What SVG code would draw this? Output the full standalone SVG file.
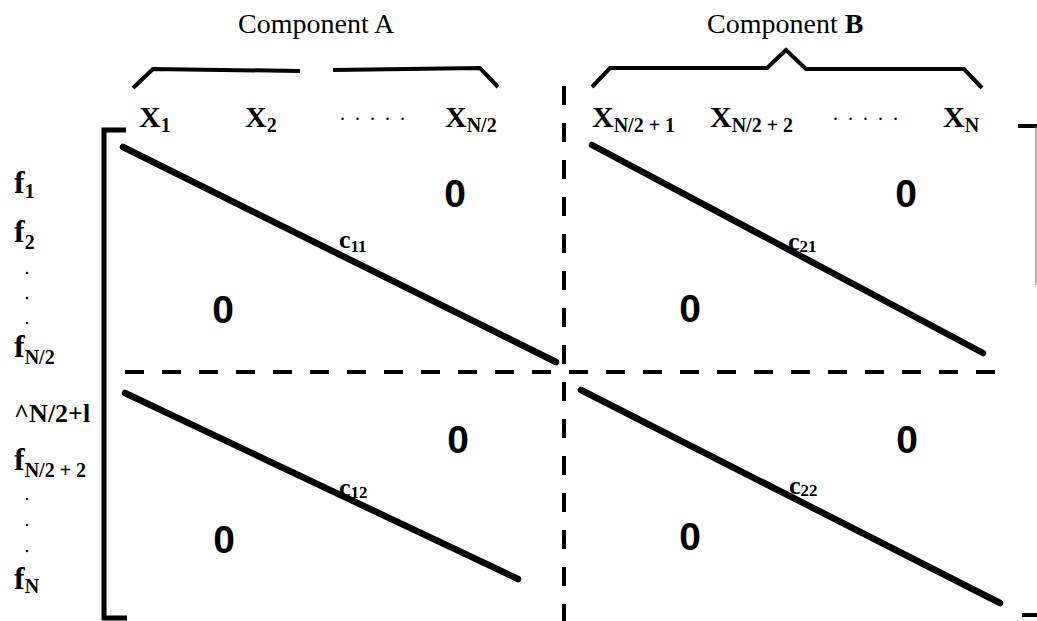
<svg xmlns="http://www.w3.org/2000/svg" width="1037" height="621" viewBox="0 0 1037 621">
<style>
text{font-family:"Liberation Serif","Times New Roman",serif;fill:#000}
.comp{font-size:28px}
.xl{font-size:30px;font-weight:bold}
.sub{font-size:20px;font-weight:bold}
.fl{font-size:32px;font-weight:bold}
.zero{font-family:"Liberation Sans",Arial,sans-serif;font-size:39px;font-weight:bold;text-anchor:middle}
.cl{font-size:26px;font-weight:bold}
.csub{font-size:17px;font-weight:bold}
.dots{font-size:20px;letter-spacing:10px}
.diag{stroke:#000;stroke-width:6.5;stroke-linecap:round;fill:none}
.brk{stroke:#000;stroke-width:5;fill:none}
.brace{stroke:#000;stroke-width:4;fill:none;stroke-linejoin:miter}
.dash{stroke:#000;stroke-width:4;fill:none;stroke-dasharray:19 18}
</style>
<rect width="1037" height="621" fill="#fff"/>
<g id="header">
<text class="comp" x="238" y="33">Component A</text>
<text class="comp" x="707" y="33">Component <tspan font-weight="bold">B</tspan></text>
<polyline class="brace" points="133,88 153,69 300,71"/>
<polyline class="brace" points="333,70 480,68 498,87"/>
<polyline class="brace" points="592,87 610,68 767,68 786,50 806,69 964,69 982,88"/>
</g>
<g id="columns">
<text class="xl" x="139" y="127">X<tspan class="sub" dy="5">1</tspan></text>
<text class="xl" x="245" y="127">X<tspan class="sub" dy="5">2</tspan></text>
<text class="dots" x="340" y="120">.....</text>
<text class="xl" x="445" y="127">X<tspan class="sub" dy="5">N/2</tspan></text>
<text class="xl" x="592" y="127">X<tspan class="sub" dy="5">N/2 + 1</tspan></text>
<text class="xl" x="710" y="127">X<tspan class="sub" dy="5">N/2 + 2</tspan></text>
<text class="dots" x="833" y="120">.....</text>
<text class="xl" x="943" y="127">X<tspan class="sub" dy="5">N</tspan></text>
</g>
<g id="rows">
<text class="fl" x="14" y="193">f<tspan class="sub" dy="5">1</tspan></text>
<text class="fl" x="14" y="242">f<tspan class="sub" dy="7">2</tspan></text>
<circle cx="27" cy="273" r="1.3"/>
<circle cx="27" cy="298" r="1.3"/>
<circle cx="27" cy="323" r="1.3"/>
<text class="fl" x="14" y="357">f<tspan class="sub" dy="7">N/2</tspan></text>
<text x="14" y="422" font-size="26" font-weight="bold">^N/2+l</text>
<text class="fl" x="14" y="470">f<tspan class="sub" dy="7">N/2 + 2</tspan></text>
<circle cx="27" cy="499" r="1.3"/>
<circle cx="27" cy="525" r="1.3"/>
<circle cx="27" cy="551" r="1.3"/>
<text class="fl" x="14" y="589">f<tspan class="sub" dy="4">N</tspan></text>
</g>
<g id="brackets">
<polyline class="brk" points="126,130 104,130 104,618 127,618"/>
<line x1="1018" y1="126" x2="1037" y2="126" stroke="#000" stroke-width="4"/>
<line x1="1036" y1="126" x2="1036" y2="285" stroke="#777" stroke-width="1"/>
<line x1="1022" y1="615" x2="1037" y2="615" stroke="#000" stroke-width="4"/>
</g>
<g id="connectors">
<line class="dash" x1="564" y1="86" x2="564" y2="621"/>
<line class="dash" x1="125" y1="372" x2="1005" y2="372"/>
<line class="diag" x1="123" y1="147" x2="556" y2="362"/>
<line class="diag" x1="592" y1="145" x2="983" y2="353"/>
<line class="diag" x1="125" y1="393" x2="518" y2="579"/>
<line class="diag" x1="581" y1="390" x2="1000" y2="603"/>
</g>
<g id="block11">
<text class="cl" x="339" y="248">c<tspan class="csub" dy="4">11</tspan></text>
<text class="zero" x="455" y="207">0</text>
<text class="zero" x="223" y="323">0</text>
</g>
<g id="block21">
<text class="cl" x="788" y="250">c<tspan class="csub" dy="2">21</tspan></text>
<text class="zero" x="906" y="207">0</text>
<text class="zero" x="690" y="322">0</text>
</g>
<g id="block12">
<text class="cl" x="339" y="496">c<tspan class="csub" dy="2">12</tspan></text>
<text class="zero" x="458" y="453">0</text>
<text class="zero" x="224" y="553">0</text>
</g>
<g id="block22">
<text class="cl" x="789" y="494">c<tspan class="csub" dy="2">22</tspan></text>
<text class="zero" x="907" y="453">0</text>
<text class="zero" x="690" y="550">0</text>
</g>
</svg>
